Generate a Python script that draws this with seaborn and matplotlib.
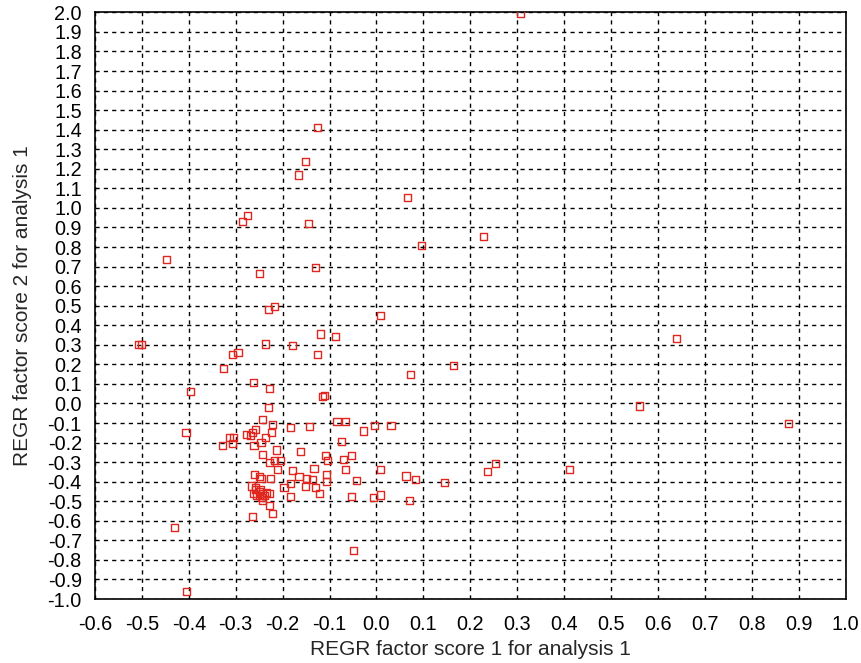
import numpy as np
import matplotlib
matplotlib.use('Agg')
import matplotlib.pyplot as plt
import seaborn as sns

# REGR factor scores
score1 = [0.307, -0.125, -0.152, -0.166, 0.066, -0.274, -0.286, -0.145, 0.228, 0.096,
          -0.447, -0.130, -0.250, -0.218, -0.230, 0.009, -0.119, -0.088, 0.640, -0.507,
          -0.500, -0.236, -0.178, -0.295, -0.307, -0.126, 0.164, -0.326, 0.072, -0.262,
          -0.227, -0.397, -0.115, -0.110, 0.561, 0.879, -0.231, -0.243, -0.221, -0.084,
          -0.065, -0.028, -0.005, 0.031, -0.184, -0.142, -0.257, -0.264, -0.277, -0.314,
          -0.304, -0.329, -0.306, -0.268, -0.246, -0.236, -0.223, -0.261, -0.406, -0.075,
          -0.213, -0.161, -0.243, -0.108, -0.105, -0.053, -0.071, -0.227, -0.218, -0.204,
          -0.210, -0.179, -0.133, -0.066, 0.008, -0.165, -0.149, -0.136, -0.106, -0.107,
          -0.042, 0.063, 0.084, 0.145, 0.237, 0.253, 0.411, -0.259, -0.250, -0.246,
          -0.225, -0.184, -0.197, -0.152, -0.129, -0.122, -0.266, -0.257,
          -0.258, -0.250, -0.242, -0.255, -0.245, -0.235, -0.262, -0.250, -0.238, -0.248,
          -0.228, -0.243, -0.227, -0.221, -0.265, -0.184, -0.053, -0.007, 0.008, 0.070,
          -0.431, -0.049, -0.405]
score2 = [1.995, 1.410, 1.236, 1.168, 1.054, 0.962, 0.931, 0.921, 0.856, 0.810,
          0.737, 0.696, 0.666, 0.495, 0.482, 0.452, 0.355, 0.341, 0.330, 0.300,
          0.300, 0.304, 0.296, 0.260, 0.252, 0.252, 0.193, 0.178, 0.149, 0.106,
          0.076, 0.060, 0.035, 0.040, -0.013, -0.101, -0.019, -0.080, -0.106, -0.093,
          -0.093, -0.141, -0.115, -0.115, -0.121, -0.117, -0.132, -0.149, -0.158, -0.173,
          -0.173, -0.217, -0.204, -0.166, -0.200, -0.173, -0.149, -0.217, -0.150, -0.195,
          -0.238, -0.246, -0.263, -0.267, -0.294, -0.268, -0.285, -0.303, -0.294, -0.294,
          -0.337, -0.344, -0.331, -0.338, -0.340, -0.374, -0.382, -0.388, -0.365, -0.400,
          -0.393, -0.371, -0.388, -0.402, -0.349, -0.306, -0.340, -0.365, -0.374, -0.386,
          -0.386, -0.408, -0.430, -0.424, -0.431, -0.461, -0.422, -0.428,
          -0.440, -0.450, -0.460, -0.470, -0.480, -0.455, -0.460, -0.470, -0.470, -0.440,
          -0.459, -0.497, -0.524, -0.561, -0.579, -0.475, -0.475, -0.482, -0.468, -0.497,
          -0.635, -0.754, -0.961]

sns.set_style('white')
plt.rcParams['font.family'] = ['Liberation Sans', 'DejaVu Sans']

fig = plt.figure(figsize=(8.61, 6.63), dpi=100)
ax = fig.add_axes([0.1103, 0.0965, 0.8717, 0.8849])

sns.scatterplot(x=score1, y=score2, marker='s', s=26, facecolor='none',
                edgecolor='#e0261e', linewidth=1.0, ax=ax, zorder=3)

# ticks every 0.1 (adding 0.0 turns -0.0 into 0.0)
xt = np.round(np.arange(-0.6, 1.01, 0.1), 1) + 0.0
yt = np.round(np.arange(-1.0, 2.01, 0.1), 1) + 0.0
ax.set_xlim(-0.6, 1.0)
ax.set_ylim(-1.0, 2.0)
ax.set_xticks(xt)
ax.set_yticks(yt)
ax.set_xticklabels([f'{v:.1f}' for v in xt])
ax.set_yticklabels([f'{v:.1f}' for v in yt])
ax.grid(True, color='black', linestyle=(0, (3, 3)), linewidth=1.0)
ax.tick_params(direction='inout', length=7, width=1, labelsize=14.3, colors='black')
ax.tick_params(axis='x', pad=8)
ax.tick_params(axis='y', pad=6)

for side in ['left', 'bottom', 'top', 'right']:
    ax.spines[side].set_color('black')
    ax.spines[side].set_linewidth(1.2)

ax.set_xlabel('REGR factor score 1 for analysis 1', fontsize=15, labelpad=4)
ax.set_ylabel('REGR factor score 2 for analysis 1', fontsize=15, labelpad=11)

fig.savefig('out.png', dpi=100)
